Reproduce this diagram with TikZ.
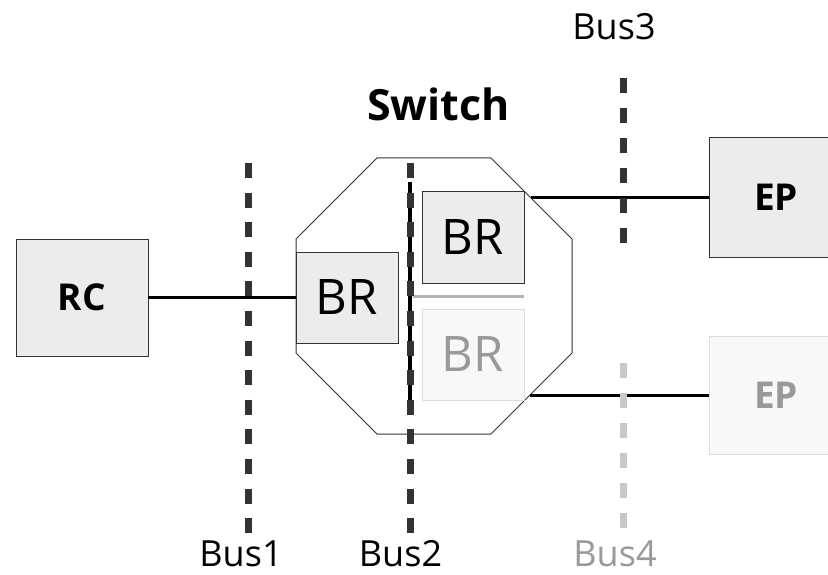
\documentclass[tikz,border=0pt]{standalone}
\usepackage{fontspec}
\setmainfont{Open Sans}
\definecolor{boxfill}{HTML}{ECECEC}
\definecolor{boxline}{HTML}{333333}
\definecolor{fadefill}{HTML}{F8F8F8}
\definecolor{fadeline}{HTML}{DDDDDD}
\definecolor{fadetext}{HTML}{999999}
\definecolor{busdark}{HTML}{333333}
\definecolor{buslight}{HTML}{C8C8C8}
\definecolor{midgrey}{HTML}{B3B3B3}
\begin{document}
\begin{tikzpicture}[x=1pt,y=-1pt,
  blk/.style={draw=boxline,fill=boxfill,line width=1pt,inner sep=0pt,outer sep=0pt},
  fadeblk/.style={draw=fadeline,fill=fadefill,line width=1pt,inner sep=0pt,outer sep=0pt,text=fadetext},
  brtxt/.style={font=\fontsize{49}{52}\selectfont},
  eptxt/.style={font=\fontsize{37}{40}\selectfont\bfseries},
  buslbl/.style={font=\fontsize{36}{40}\selectfont,anchor=base,inner sep=0pt},
  busline/.style={line width=7pt,dash pattern=on 15pt off 14.6pt},
  link/.style={line width=3pt,black}]
\useasboundingbox (0,0) rectangle (828,575);

% octagon (switch)
\draw[line width=1pt,boxline] (377,158) -- (491,158) -- (572,239) -- (572,353) -- (491,434) -- (377,434) -- (296,353) -- (296,239) -- cycle;

% boxes
\node[blk,minimum width=132pt,minimum height=117pt,eptxt] (rc) at (82,297.5) {RC};
\node[blk,minimum width=102pt,minimum height=91pt,brtxt] (br1) at (347,297.5) {BR};
\node[blk,minimum width=102pt,minimum height=91pt,brtxt] (br2) at (473,237.5) {BR};
\node[fadeblk,minimum width=102pt,minimum height=91pt,brtxt] (br3) at (473,354.5) {BR};
\node[blk,minimum width=134pt,minimum height=119pt,eptxt] (ep1) at (776,197.5) {EP};
\node[fadeblk,minimum width=134pt,minimum height=118pt,eptxt] (ep2) at (776,395) {EP};

% coordinates
\coordinate (s1) at (531,198);
\coordinate (s2) at (530,395);
\coordinate (g1) at (413,296);
\coordinate (g2) at (524,296);
\coordinate (in1) at (410,182);
\coordinate (in2) at (410,400);
\coordinate (b1t) at (248.5,163);
\coordinate (b1b) at (248.5,533.2);
\coordinate (b2t) at (410,163);
\coordinate (b2b) at (410,533.2);
\coordinate (b3t) at (623.5,78);
\coordinate (b3b) at (623.5,243);
\coordinate (b4t) at (623.5,363);
\coordinate (b4b) at (623.5,528);

% connectors
\draw[link] (rc.east) -- (br1.west);
\draw[link] (s1) -- (s1 -| ep1.west);
\draw[link] (s2) -- (s2 -| ep2.west);
\draw[line width=3pt,midgrey] (g1) -- (g2);
\draw[line width=4pt,black] (in1) -- (in2);

% buses
\draw[busline,busdark] (b1t) -- (b1b);
\draw[busline,busdark] (b2t) -- (b2b);
\draw[busline,busdark,dash pattern=on 15pt off 15pt] (b3t) -- (b3b);
\draw[busline,buslight,dash pattern=on 15pt off 15pt] (b4t) -- (b4b);

% labels
\node[buslbl] (l1) at (241,566) {Bus1};
\node[buslbl] (l2) at (400.5,566) {Bus2};
\node[buslbl] (l3) at (614,40) {Bus3};
\node[buslbl,text=fadetext] (l4) at (615,566) {Bus4};
\node[anchor=base,inner sep=0pt,font=\fontsize{43}{46}\selectfont\bfseries] (sw) at (438.5,121) {Switch};
\end{tikzpicture}
\end{document}
